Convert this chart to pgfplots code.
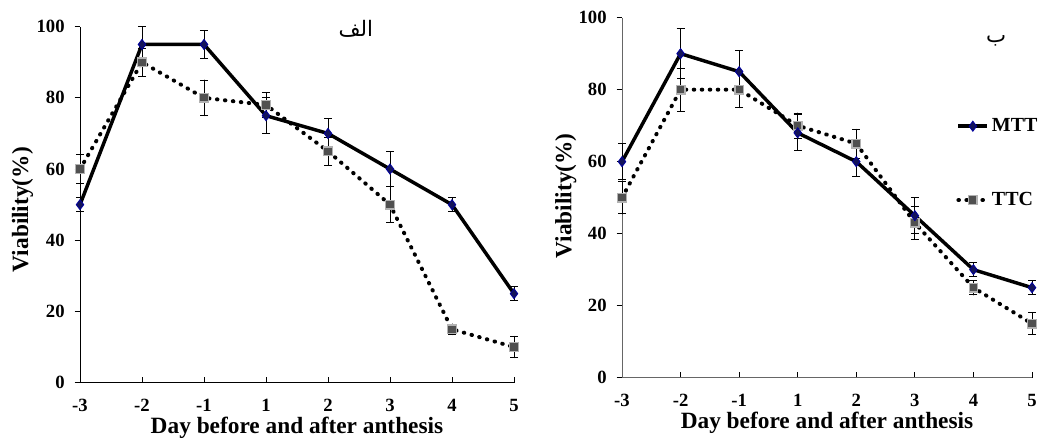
\documentclass[border=0pt]{standalone}
\usepackage{pgfplots}
\pgfplotsset{compat=1.18}
\usepackage{fontspec}
\setmainfont{Liberation Serif}
\newfontfamily\arabicfont[Script=Arabic]{DejaVu Sans}
\TeXXeTstate=1

\definecolor{mttnavy}{RGB}{20,20,90}
\definecolor{mttedge}{RGB}{0,0,160}
\definecolor{ttcgray}{RGB}{80,80,80}

\pgfplotsset{
  viab/.style={
    scale only axis,
    axis lines=left,
    axis line style={-},
    xmin=0, xmax=7, ymin=0, ymax=100,
    xtick={0,...,7},
    xticklabels={-3,-2,-1,1,2,3,4,5},
    ytick={0,20,40,60,80,100},
    xtick align=inside, ytick align=outside,
    major tick length=4pt,
    tick style={black, line width=0.6pt},
    /pgf/number format/assume math mode=true,
    ticklabel style={font=\fontsize{14}{14}\selectfont\bfseries},
    xticklabel style={yshift=-9pt},
    yticklabel style={xshift=-4pt},
    xlabel={Day before and after anthesis},
    ylabel={Viability(\%)},
    xlabel style={font=\fontsize{17.5}{18}\selectfont\bfseries, yshift=3pt},
    ylabel style={font=\fontsize{17.5}{18}\selectfont\bfseries, rotate=0},
    clip=false,
    error bars/y dir=both, error bars/y explicit,
    error bars/error bar style={black, line width=0.6pt, solid},
    error bars/error mark options={rotate=90, mark size=3pt, line width=0.6pt, solid},
    legend image code/.code={
      \draw[mark repeat=2, mark phase=2, #1]
        plot coordinates {(0cm,0cm) (0.38cm,0cm) (0.76cm,0cm)};},
  },
  mtt/.style={black, line width=2.6pt, mark=diamond*,
    mark options={fill=mttnavy, draw=mttedge, line width=0.6pt, mark size=3.8pt, solid}},
  ttc/.style={black, line width=3pt, line cap=round, dash pattern=on 0.4pt off 5.6pt,
    mark=square*, mark options={fill=ttcgray, draw=gray!60, line width=1pt, mark size=3.2pt, solid}},
}

\begin{document}
\begin{tikzpicture}
\useasboundingbox (-60pt,-45pt) rectangle (723.75pt,287pt);

% panel alef
\begin{axis}[viab, at={(0pt,0pt)}, width=325.5pt, height=267pt,
  ylabel style={at={(axis description cs:-0.097,0.486)}, anchor=south}]
  \addplot[ttc] coordinates {
    (0,60) +- (0,4) (1,90) +- (0,4) (2,80) +- (0,5) (3,78) +- (0,3.5)
    (4,65) +- (0,4) (5,50) +- (0,5) (6,15) +- (0,1.5) (7,10) +- (0,3)};
  \addplot[mtt] coordinates {
    (0,50) +- (0,2) (1,95) +- (0,5) (2,95) +- (0,4) (3,75) +- (0,5)
    (4,70) +- (0,4.3) (5,60) +- (0,5) (6,50) +- (0,2) (7,25) +- (0,2)};
  \node[font=\fontsize{16}{16}\selectfont] at (axis cs:4.45,99.5) {\arabicfont\beginR الف\endR};
\end{axis}

% panel be
\begin{axis}[viab, at={(406.5pt,3.75pt)}, width=307.5pt, height=270pt,
  axis line style={gray!80!black},
  ylabel style={at={(axis description cs:-0.10,0.505)}, anchor=south},
  legend style={draw=none, fill=none, at={(axis description cs:0.815,0.735)},
    anchor=north west, row sep=40pt, font=\fontsize{15}{15}\selectfont\bfseries,
    inner xsep=0pt},
  legend cell align=left, reverse legend]
  \addplot[ttc] coordinates {
    (0,50) +- (0,4.5) (1,80) +- (0,6) (2,80) +- (0,5) (3,70) +- (0,3.5)
    (4,65) +- (0,4) (5,43) +- (0,4.5) (6,25) +- (0,2) (7,15) +- (0,3)};
  \addlegendentry{TTC}
  \addplot[mtt] coordinates {
    (0,60) +- (0,5) (1,90) +- (0,7) (2,85) +- (0,6) (3,68) +- (0,5)
    (4,60) +- (0,4) (5,45) +- (0,5) (6,30) +- (0,2) (7,25) +- (0,2)};
  \addlegendentry{MTT}
  \node[font=\fontsize{16}{16}\selectfont] at (axis cs:6.39,93.6) {\arabicfont\beginR ب\endR};
\end{axis}
\end{tikzpicture}
\end{document}
